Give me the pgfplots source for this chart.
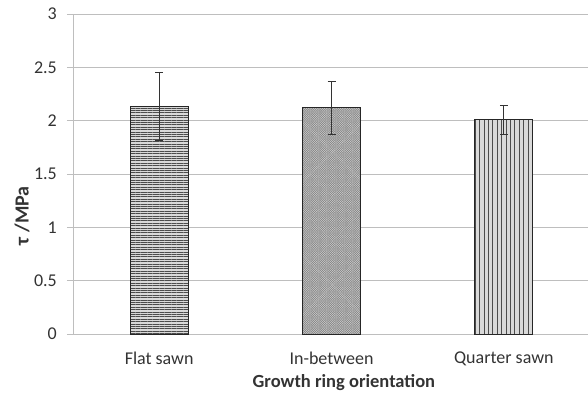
\documentclass[border=0pt]{standalone}
\usepackage{fontspec}
\setmainfont{Carlito}
\usepackage{pgfplots}
\pgfplotsset{compat=1.18}
\usetikzlibrary{patterns.meta}
\definecolor{gridc}{RGB}{190,190,190}
\begin{document}
\fontsize{18}{21}\selectfont
\begin{tikzpicture}
\begin{axis}[
  scale only axis, width=517pt, height=320pt,
  xmin=-0.5, xmax=2.5, ymin=0, ymax=3,
  ytick={0,0.5,1,1.5,2,2.5,3},
  yticklabels={0,0.5,1,1.5,2,2.5,3},
  xtick={0,1,2},
  xticklabels={Flat sawn,In-between,Quarter sawn},
  axis x line*=bottom,
  x axis line style={draw=none},
  axis y line*=left,
  y axis line style={gridc, line width=0.8pt},
  ymajorgrids, grid style={gridc, line width=0.8pt},
  tick align=outside, major tick length=6pt,
  ytick style={gridc, line width=0.8pt},
  xtick style={draw=none},
  yticklabel style={xshift=-4pt, text=black!80},
  xticklabel style={text=black!80, yshift=-6pt},
  every axis x label/.style={at={(rel axis cs:0.524,0)}, yshift=-49pt, anchor=center, font=\fontsize{18.5}{21}\selectfont},
  every axis y label/.style={at={(rel axis cs:0,0.369)}, xshift=-51pt, rotate=90, anchor=center, font=\fontsize{20}{22}\selectfont},
  xlabel={\bfseries\color{black!80}Growth ring orientation},
  ylabel={\bfseries\color{black!80}τ\hspace{5pt}/MPa},
  ybar, bar width=58pt, bar shift=0pt,
  clip=false,
  error bars/error bar style={black!80, line width=0.9pt},
  error bars/error mark options={rotate=90, mark size=4pt, black!80, line width=0.9pt},
]
\coordinate (bl) at (rel axis cs:0,0);
\coordinate (tr) at (rel axis cs:1,1);
\addplot[draw=black!85, line width=0.8pt, fill=gray!30,
  postaction={pattern={Lines[angle=0,distance=2.4pt,line width=0.7pt]}, pattern color=black!70},
  error bars/.cd, y dir=both, y explicit]
  coordinates {(0,2.13) +- (0,0.32)};
\addplot[draw=black!85, line width=0.8pt, fill=gray!40,
  postaction={pattern={Lines[angle=45,distance=1.6pt,line width=0.35pt]}, pattern color=black!50},
  postaction={pattern={Lines[angle=-45,distance=1.6pt,line width=0.35pt]}, pattern color=black!50},
  error bars/.cd, y dir=both, y explicit]
  coordinates {(1,2.12) +- (0,0.25)};
\addplot[draw=black!85, line width=0.8pt, fill=gray!30,
  postaction={pattern={Lines[angle=90,distance=4.4pt,line width=0.7pt]}, pattern color=black!70},
  error bars/.cd, y dir=both, y explicit]
  coordinates {(2,2.01) +- (0,0.135)};
\end{axis}
\pgfresetboundingbox
\path[use as bounding box] ([shift={(-73pt,-62pt)}]bl) rectangle ([shift={(-2pt,14pt)}]tr);
\end{tikzpicture}
\end{document}
